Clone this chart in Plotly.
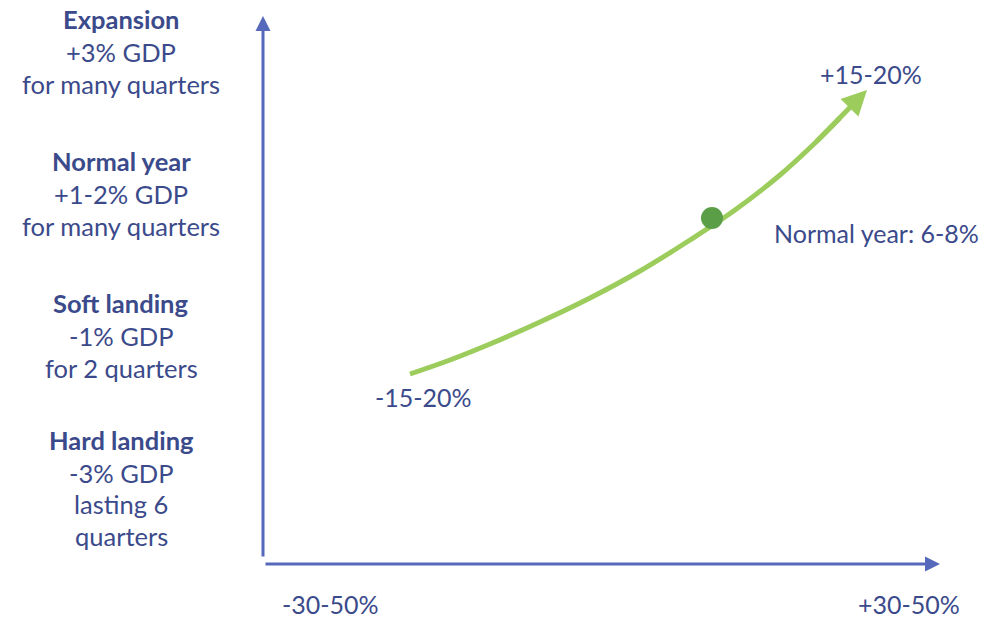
import plotly.graph_objects as go

W, H = 1002, 619
TEXT = "#3b4a8b"
AXIS = "#5669bb"
GREEN = "#9bcc5c"
DOT = "#5a9f47"
FONT = "Lato"

# Left-side scenario labels (line text, y centre, bold)
left_lines = ["Expansion", "+3% GDP", "for many quarters",
              "Normal year", "+1-2% GDP", "for many quarters",
              "Soft landing", "-1% GDP", "for 2 quarters",
              "Hard landing", "-3% GDP", "lasting 6", "quarters"]
left_y = [19, 52, 84, 161, 194, 226, 303, 336, 368, 440, 473, 504, 536]
left_bold = [True, False, False, True, False, False, True, False, False,
             True, False, False, False]
left_x = 121

# Axes (origin, tips)
axis_origin = (263, 558)
y_axis_tip = (263, 16)
x_axis_start = (264, 564)
x_axis_tip = (940, 564)

# Green growth curve
curve_x = [410, 450, 490, 540, 590, 640, 690, 735, 780, 815, 840]
curve_y = [374, 360, 344, 322, 298, 271, 240, 210, 175, 143, 118]
curve_tip = (867, 90)

# Normal-year point
dot_x = [712]
dot_y = [218]

# Value labels
value_labels = ["+15-20%", "Normal year: 6-8%", "-15-20%", "-30-50%", "+30-50%"]
value_x = [871, 876, 423, 330, 909]
value_y = [74, 233, 397, 604, 604]

fig = go.Figure()

# vertical axis line
fig.add_annotation(x=y_axis_tip[0], y=y_axis_tip[1], ax=axis_origin[0], ay=axis_origin[1],
                   xref="x", yref="y", axref="x", ayref="y", text="",
                   showarrow=True, arrowhead=2, arrowsize=1, arrowwidth=3,
                   arrowcolor=AXIS, standoff=0)
# horizontal axis line
fig.add_annotation(x=x_axis_tip[0], y=x_axis_tip[1], ax=x_axis_start[0], ay=x_axis_start[1],
                   xref="x", yref="y", axref="x", ayref="y", text="",
                   showarrow=True, arrowhead=2, arrowsize=1, arrowwidth=3,
                   arrowcolor=AXIS, standoff=0)

# curve
fig.add_trace(go.Scatter(x=curve_x, y=curve_y, mode="lines",
                         line=dict(color=GREEN, width=5, shape="spline"),
                         hoverinfo="skip", showlegend=False))
fig.add_annotation(x=curve_tip[0], y=curve_tip[1], ax=curve_x[-2], ay=curve_y[-2],
                   xref="x", yref="y", axref="x", ayref="y", text="",
                   showarrow=True, arrowhead=2, arrowsize=1, arrowwidth=5,
                   arrowcolor=GREEN, standoff=0)

# dot
fig.add_trace(go.Scatter(x=dot_x, y=dot_y, mode="markers",
                         marker=dict(color=DOT, size=22, line=dict(width=0)),
                         hoverinfo="skip", showlegend=False))

for txt, y, b in zip(left_lines, left_y, left_bold):
    fig.add_annotation(x=left_x, y=y, xref="x", yref="y", showarrow=False,
                       text=f"<b>{txt}</b>" if b else txt,
                       font=dict(family=FONT, size=25.5, color=TEXT),
                       xanchor="center", yanchor="middle")

for txt, x, y in zip(value_labels, value_x, value_y):
    fig.add_annotation(x=x, y=y, xref="x", yref="y", showarrow=False, text=txt,
                       font=dict(family=FONT, size=25, color=TEXT),
                       xanchor="center", yanchor="middle")

fig.update_layout(
    width=W, height=H, margin=dict(l=0, r=0, t=0, b=0),
    paper_bgcolor="white", plot_bgcolor="white",
    xaxis=dict(range=[0, W], visible=False, fixedrange=True),
    yaxis=dict(range=[H, 0], visible=False, fixedrange=True),
)

fig.write_html("out.html", config={"displayModeBar": False})
